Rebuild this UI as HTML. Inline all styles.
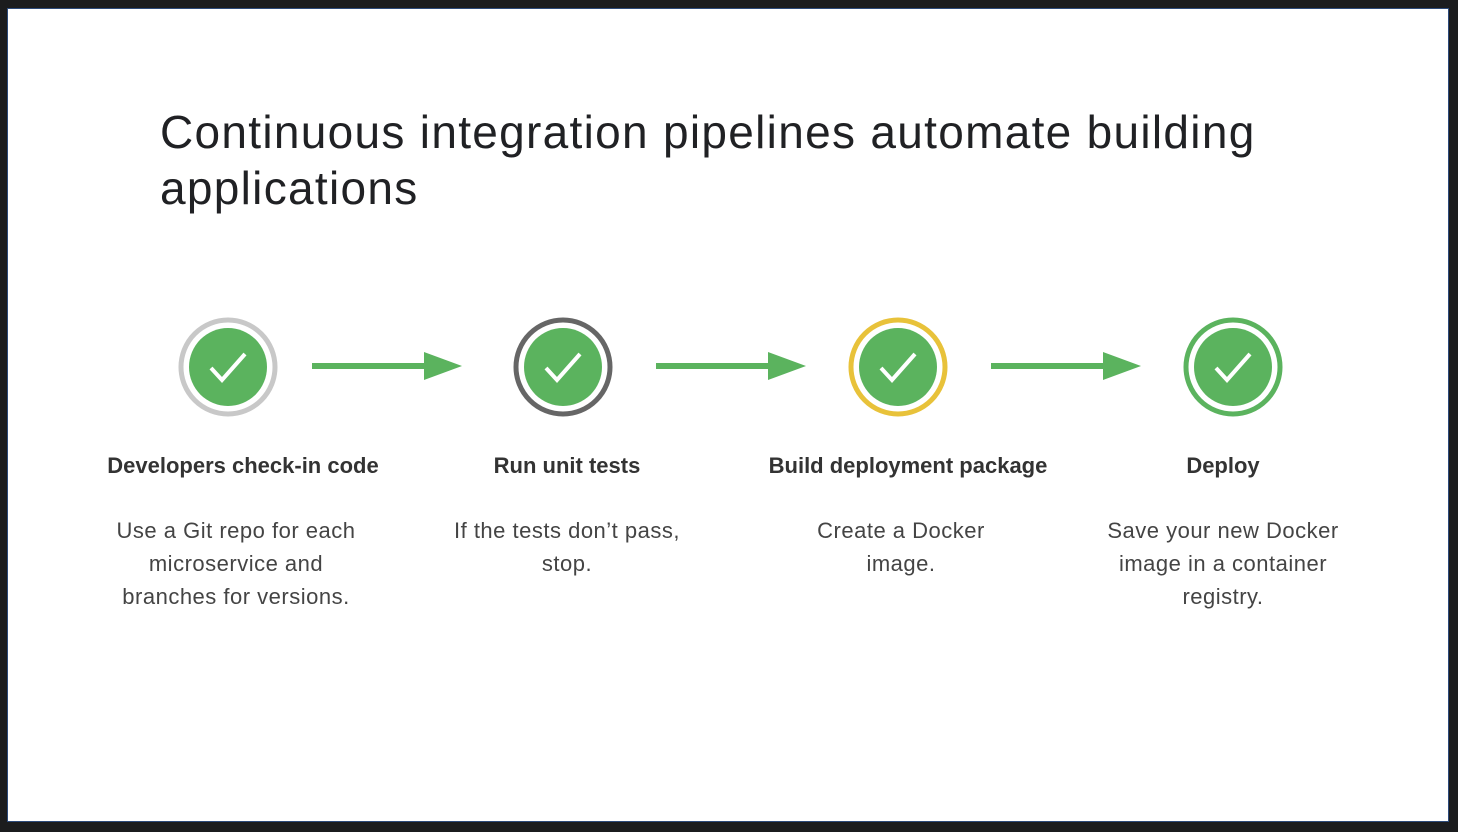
<!DOCTYPE html>
<html><head><style>
body{margin:0;background:#1b1c1e;width:1458px;height:832px;overflow:hidden;font-family:"Liberation Sans",sans-serif}
.slide{position:absolute;left:8px;top:9px;width:1440px;height:812px;background:#fff;outline:1.5px solid #2c4a7a}
.t{position:absolute;left:160px;top:104px;font-size:46px;line-height:56px;color:#202124;letter-spacing:1.3px;white-space:nowrap}
.h{position:absolute;width:340px;text-align:center;font-weight:bold;font-size:22px;color:#333;top:453px}
.d{position:absolute;width:340px;text-align:center;font-size:22px;line-height:33px;color:#444;top:514px;letter-spacing:0.5px}
</style></head><body>
<div class="slide"></div>
<div class="t">Continuous integration pipelines automate building<br>applications</div>
<svg width="1458" height="832" style="position:absolute;left:0;top:0">
<defs><g id="c"><circle r="39" fill="#5bb35e"/><path d="M-17 1 L-6 13 L17 -13" stroke="#fff" stroke-width="4" fill="none"/></g></defs>
<circle cx="228" cy="367" r="47" fill="#fff" stroke="#c8c8c8" stroke-width="5"/><use href="#c" x="228" y="367"/>
<circle cx="563" cy="367" r="47" fill="#fff" stroke="#666" stroke-width="5"/><use href="#c" x="563" y="367"/>
<circle cx="898" cy="367" r="47" fill="#fff" stroke="#e8c23a" stroke-width="5"/><use href="#c" x="898" y="367"/>
<circle cx="1233" cy="367" r="47" fill="#fff" stroke="#5bb35e" stroke-width="5"/><use href="#c" x="1233" y="367"/>
<g fill="#5bb35e">
<rect x="312" y="363" width="116" height="6"/><polygon points="424,352 462,366 424,380"/>
<rect x="656" y="363" width="116" height="6"/><polygon points="768,352 806,366 768,380"/>
<rect x="991" y="363" width="116" height="6"/><polygon points="1103,352 1141,366 1103,380"/>
</g></svg>
<div class="h" style="left:73px">Developers check-in code</div>
<div class="h" style="left:397px">Run unit tests</div>
<div class="h" style="left:738px">Build deployment package</div>
<div class="h" style="left:1053px">Deploy</div>
<div class="d" style="left:66px">Use a Git repo for each<br>microservice and<br>branches for versions.</div>
<div class="d" style="left:397px">If the tests don’t pass,<br>stop.</div>
<div class="d" style="left:731px">Create a Docker<br>image.</div>
<div class="d" style="left:1053px">Save your new Docker<br>image in a container<br>registry.</div>
</body></html>
